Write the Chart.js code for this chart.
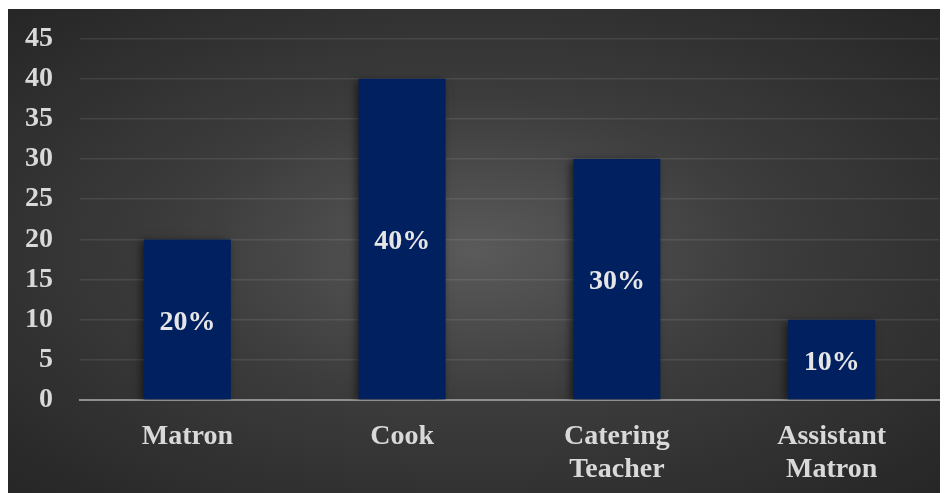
<!DOCTYPE html>
<html lang="en">
<head>
  <meta charset="utf-8">
  <script src="https://cdn.jsdelivr.net/npm/chart.js"></script>
  <style>
    body { margin: 0; background: #ffffff; }
    .panel {
      position: absolute;
      left: 8px;
      top: 9px;
      width: 932px;
      height: 484px;
      background: radial-gradient(ellipse at 50% 50%, #5a5a5a 0%, #3c3c3c 45%, #262626 100%);
    }
  </style>
</head>
<body>
  <div class="panel">
    <canvas id="staffChart" width="932" height="484"></canvas>
  </div>

  <script>
    // staff roles and their share (percent)
    const roles = ['Matron', 'Cook', ['Catering', 'Teacher'], ['Assistant', 'Matron']];
    const shares = [20, 40, 30, 10];
    const yTicks = [0, 5, 10, 15, 20, 25, 30, 35, 40, 45];

    const serif = "'Liberation Serif', 'Times New Roman', serif";

    // soft shadow behind the bars
    const barShadow = {
      id: 'barShadow',
      beforeDatasetsDraw(chart) {
        const ctx = chart.ctx;
        ctx.save();
        ctx.shadowColor = 'rgba(0,0,0,0.55)';
        ctx.shadowBlur = 8;
        ctx.shadowOffsetX = -3;
        ctx.shadowOffsetY = 2;
      },
      afterDatasetsDraw(chart) {
        chart.ctx.restore();
      }
    };

    // percentage written in the middle of each bar
    const barValues = {
      id: 'barValues',
      afterDatasetsDraw(chart) {
        const ctx = chart.ctx;
        const meta = chart.getDatasetMeta(0);
        ctx.save();
        ctx.font = 'bold 28px ' + serif;
        ctx.fillStyle = '#e6e6e6';
        ctx.textAlign = 'center';
        ctx.textBaseline = 'middle';
        meta.data.forEach((bar, i) => {
          const mid = (bar.y + bar.base) / 2;
          ctx.fillText(shares[i] + '%', bar.x, mid + 3);
        });
        ctx.restore();
      }
    };

    new Chart(document.getElementById('staffChart'), {
      type: 'bar',
      data: {
        labels: roles,
        datasets: [{
          data: shares,
          backgroundColor: '#002060',
          borderWidth: 0,
          categoryPercentage: 1,
          barPercentage: 0.405
        }]
      },
      options: {
        responsive: false,
        animation: false,
        layout: { padding: { left: 0, top: 29.6, right: 1, bottom: 0 } },
        plugins: { legend: { display: false }, tooltip: { enabled: false } },
        scales: {
          x: {
            grid: { display: false, drawTicks: false },
            border: { display: true, color: '#8f8f8f', width: 2 },
            ticks: {
              color: '#d9d9d9',
              padding: 20,
              maxRotation: 0,
              autoSkip: false,
              font: { family: serif, size: 28, weight: 'bold', lineHeight: 1.18 }
            },
            afterFit(scale) { scale.height = 93; }
          },
          y: {
            min: 0,
            max: 45,
            afterBuildTicks(scale) { scale.ticks = yTicks.map(v => ({ value: v })); },
            grid: { color: 'rgba(255,255,255,0.09)', lineWidth: 1.5, drawTicks: false },
            border: { display: false },
            ticks: {
              color: '#d9d9d9',
              padding: 27,
              font: { family: serif, size: 28, weight: 'bold' }
            },
            afterFit(scale) {
              scale.width = 72;
              scale.paddingTop = 0;
              scale.paddingBottom = 0;
            }
          }
        }
      },
      plugins: [barShadow, barValues]
    });
  </script>
</body>
</html>
